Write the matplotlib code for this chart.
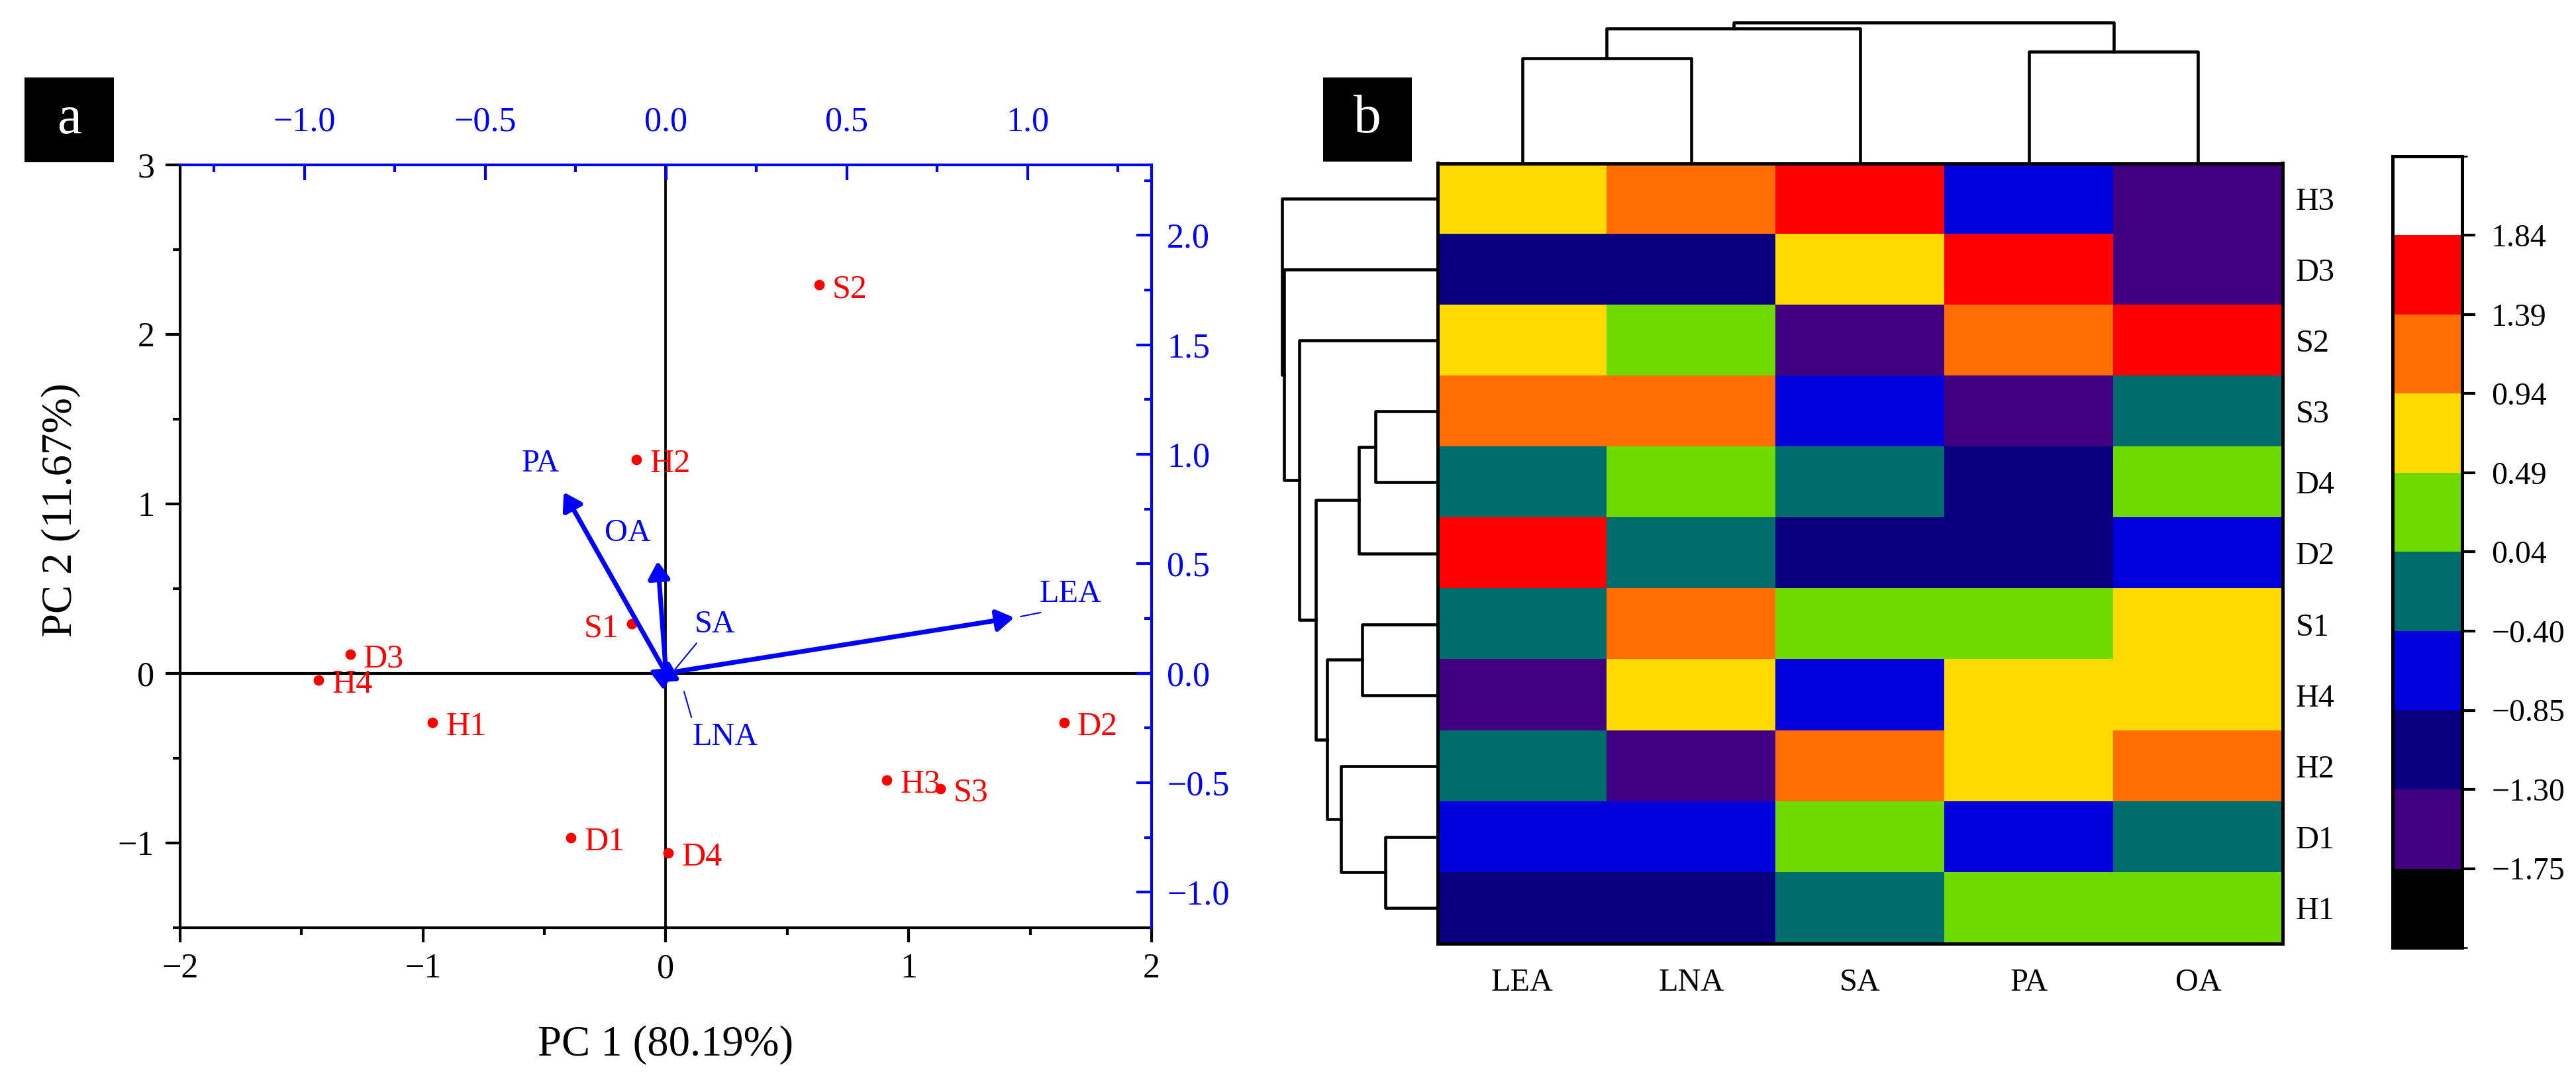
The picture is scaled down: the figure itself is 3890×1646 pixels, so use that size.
import numpy as np
import matplotlib
matplotlib.use("Agg")
import matplotlib.pyplot as plt
from matplotlib.colors import ListedColormap, BoundaryNorm
from matplotlib.patches import Rectangle
from matplotlib.ticker import MultipleLocator, FuncFormatter

plt.rcParams['font.family'] = ['Liberation Serif', 'DejaVu Serif']

# ---- (a) PCA biplot ----
sample_names = ["S2", "H2", "S1", "D3", "H4", "H1", "D1", "D4", "H3", "S3", "D2"]
pc1_scores = [0.63, -0.12, -0.14, -1.30, -1.43, -0.96, -0.39, 0.01, 0.91, 1.13, 1.64]
pc2_scores = [2.29, 1.26, 0.29, 0.11, -0.04, -0.29, -0.97, -1.06, -0.63, -0.68, -0.29]
# S1 is labelled on the left of its dot, all others on the right
label_left = {"S1"}

loading_names = ["PA", "OA", "SA", "LNA", "LEA"]
loading_pc1 = [-0.283, -0.023, 0.02, 0.04, 0.963]
loading_pc2 = [0.827, 0.512, 0.025, -0.035, 0.254]
# where the loading labels sit (top/right axis units), and their leader lines
loading_label_xy = [(-0.347, 0.958), (-0.106, 0.640), (0.136, 0.223), (0.163, -0.291), (1.118, 0.363)]
leader_lines = {"SA": ((0.026, 0.02), (0.084, 0.136)),
                "LNA": ((0.05, -0.085), (0.07, -0.2)),
                "LEA": ((0.981, 0.259), (1.036, 0.277))}

# ---- (b) heatmap ----
hm_rows = ["H3", "D3", "S2", "S3", "D4", "D2", "S1", "H4", "H2", "D1", "H1"]
hm_cols = ["LEA", "LNA", "SA", "PA", "OA"]
hm_values = [
    [0.72, 1.17, 1.62, -0.62, -1.52],    # H3
    [-1.07, -1.07, 0.72, 1.62, -1.52],   # D3
    [0.72, 0.27, -1.52, 1.17, 1.62],     # S2
    [1.17, 1.17, -0.62, -1.52, -0.18],   # S3
    [-0.18, 0.27, -0.18, -1.07, 0.27],   # D4
    [1.62, -0.18, -1.07, -1.07, -0.62],  # D2
    [-0.18, 1.17, 0.27, 0.27, 0.72],     # S1
    [-1.52, 0.72, -0.62, 0.72, 0.72],    # H4
    [-0.18, -1.52, 1.17, 0.72, 1.17],    # H2
    [-0.62, -0.62, 0.27, -0.62, -0.18],  # D1
    [-1.07, -1.07, -0.18, 0.27, 0.27],   # H1
]
cbar_ticks = [-1.75, -1.30, -0.85, -0.40, 0.04, 0.49, 0.94, 1.39, 1.84]
cbar_bounds = [-2.20] + cbar_ticks + [2.29]
cbar_colors = ["#000000", "#40007F", "#0A007F", "#0000DD", "#006D6D",
               "#6FDA00", "#FFDA00", "#FF6D00", "#FF0000", "#FFFFFF"]

# dendrograms: (child a, child b, height); leaves are 0..n-1, merges n, n+1, ...
col_merges = [(0, 1, 158), (5, 2, 203), (3, 4, 168), (6, 7, 212)]
row_merges = [(3, 4, 94), (11, 5, 119), (6, 7, 114), (9, 10, 79), (8, 14, 146),
              (13, 15, 167), (12, 16, 184), (2, 17, 209), (1, 18, 232), (0, 19, 235)]


def draw_dendro(ax, merges, n_leaves, top=True, lw=1.1):
    pos = [i + 0.5 for i in range(n_leaves)]
    hgt = [0.0] * n_leaves
    for a, b, h in merges:
        xs = [pos[a], pos[a], pos[b], pos[b]]
        ys = [hgt[a], h, h, hgt[b]]
        if top:
            ax.plot(xs, ys, color='k', lw=lw, clip_on=False)
        else:
            ax.plot(ys, xs, color='k', lw=lw, clip_on=False)
        pos.append((pos[a] + pos[b]) / 2)
        hgt.append(h)
    ax.axis('off')


W, H = 3890, 1646
fig = plt.figure(figsize=(W / 300, H / 300), dpi=300)


def rect(x0, y0, x1, y1):
    return [x0 / W, 1 - y1 / H, (x1 - x0) / W, (y1 - y0) / H]


minus_fmt = FuncFormatter(lambda v, pos: f"{v:.1f}".replace('-', '\u2212'))

# ================= panel a =================
ax = fig.add_axes(rect(272, 248.5, 1739, 1400.5))
ax.set_xlim(-2, 2)
ax.set_ylim(-1.5, 3)
ax.xaxis.set_major_locator(MultipleLocator(1))
ax.xaxis.set_minor_locator(MultipleLocator(0.5))
ax.yaxis.set_major_locator(MultipleLocator(1))
ax.yaxis.set_minor_locator(MultipleLocator(0.5))
ax.tick_params(which='both', direction='out', width=1.0, labelsize=12.5, pad=4)
ax.tick_params(which='major', length=5.3)
ax.tick_params(which='minor', length=2.6)
for s in ['top', 'right']:
    ax.spines[s].set_visible(False)
for s in ['left', 'bottom']:
    ax.spines[s].set_linewidth(1.0)
ax.axhline(0, color='k', lw=1.0, zorder=1)
ax.axvline(0, color='k', lw=0.9, zorder=1)
ax.plot(pc1_scores, pc2_scores, 'o', color='red', ms=3.8, mec='none', zorder=3)
for name, x, y in zip(sample_names, pc1_scores, pc2_scores):
    if name in label_left:
        ax.annotate(name, (x, y), xytext=(-4.8, -1.6), textcoords='offset points',
                    color='red', fontsize=12, ha='right', va='center')
    else:
        ax.annotate(name, (x, y), xytext=(4.8, -1.6), textcoords='offset points',
                    color='red', fontsize=12, ha='left', va='center')

ax2 = fig.add_axes(rect(272, 248.5, 1739, 1400.5))
ax2.patch.set_visible(False)
ax2.set_xlim(-1.344, 1.343)
ax2.set_ylim(-1.161, 2.323)
ax2.xaxis.tick_top()
ax2.yaxis.tick_right()
ax2.xaxis.set_major_locator(MultipleLocator(0.5))
ax2.xaxis.set_minor_locator(MultipleLocator(0.25))
ax2.yaxis.set_major_locator(MultipleLocator(0.5))
ax2.yaxis.set_minor_locator(MultipleLocator(0.25))
ax2.xaxis.set_major_formatter(minus_fmt)
ax2.yaxis.set_major_formatter(minus_fmt)
ax2.tick_params(which='both', direction='in', width=1.0, color='blue',
                labelcolor='blue', labelsize=12.5)
ax2.tick_params(which='major', length=5.5)
ax2.tick_params(which='minor', length=2.7)
ax2.tick_params(axis='x', pad=9.6)
ax2.tick_params(axis='y', pad=5.5)
for s in ['left', 'bottom']:
    ax2.spines[s].set_visible(False)
for s in ['top', 'right']:
    ax2.spines[s].set_color('blue')
    ax2.spines[s].set_linewidth(1.0)

for name, lx, ly, (tx, ty) in zip(loading_names, loading_pc1, loading_pc2, loading_label_xy):
    ax2.annotate("", xy=(lx, ly), xytext=(0, 0),
                 arrowprops=dict(arrowstyle='-|>,head_length=0.4,head_width=0.25',
                                 color='blue', lw=1.7, mutation_scale=13,
                                 shrinkA=0, shrinkB=0), zorder=4)
    ax2.text(tx, ty, name, color='blue', fontsize=11.6, ha='center', va='center')
for name, (p0, p1) in leader_lines.items():
    ax2.plot([p0[0], p1[0]], [p0[1], p1[1]], color='blue', lw=0.5)

fig.text(1005 / W, 1 - 1578 / H, "PC 1 (80.19%)", fontsize=15.5, ha='center', va='center')
fig.text(92 / W, 1 - 770 / H, "PC 2 (11.67%)", fontsize=15.5, ha='center', va='center',
         rotation=90)

# ================= panel b =================
cmap = ListedColormap(cbar_colors)
norm = BoundaryNorm(cbar_bounds, cmap.N)

axh = fig.add_axes(rect(2171, 246.5, 3447, 1424.5))
im = axh.imshow(np.array(hm_values), cmap=cmap, norm=norm, aspect='auto',
                interpolation='nearest')
axh.set_xticks(range(len(hm_cols)))
axh.set_xticklabels(hm_cols)
axh.set_yticks(range(len(hm_rows)))
axh.set_yticklabels(hm_rows)
axh.yaxis.tick_right()
axh.tick_params(axis='both', length=0, labelsize=11.6)
axh.tick_params(axis='x', pad=9)
axh.tick_params(axis='y', pad=4.8)
for s in axh.spines.values():
    s.set_linewidth(1.2)

axt = fig.add_axes(rect(2171, 34, 3447, 246.5))
axt.set_xlim(0, len(hm_cols))
axt.set_ylim(0, 212.5)
draw_dendro(axt, col_merges, len(hm_cols), top=True)

axl = fig.add_axes(rect(1931, 246.5, 2171, 1424.5))
axl.set_xlim(240, 0)
axl.set_ylim(len(hm_rows), 0)
draw_dendro(axl, row_merges, len(hm_rows), top=False)

cax = fig.add_axes(rect(3613, 236, 3718, 1431))
cb = fig.colorbar(im, cax=cax, ticks=cbar_ticks, spacing='uniform')
cb.set_ticklabels([f"{t:.2f}".replace('-', '\u2212') for t in cbar_ticks])
cb.outline.set_linewidth(1.2)
cax.tick_params(length=4.8, width=1.0, labelsize=11.5, pad=5.8)

# panel letters
for (x0, y0, x1, y1), letter in [((37, 117, 172, 245), 'a'), ((1998, 117, 2132, 244), 'b')]:
    r = rect(x0, y0, x1, y1)
    fig.patches.append(Rectangle((r[0], r[1]), r[2], r[3], transform=fig.transFigure,
                                 facecolor='black', edgecolor='none'))
    fig.text(r[0] + r[2] / 2, r[1] + r[3] / 2, letter, color='white', fontsize=20,
             ha='center', va='center')

fig.savefig("out.png", dpi=300)
